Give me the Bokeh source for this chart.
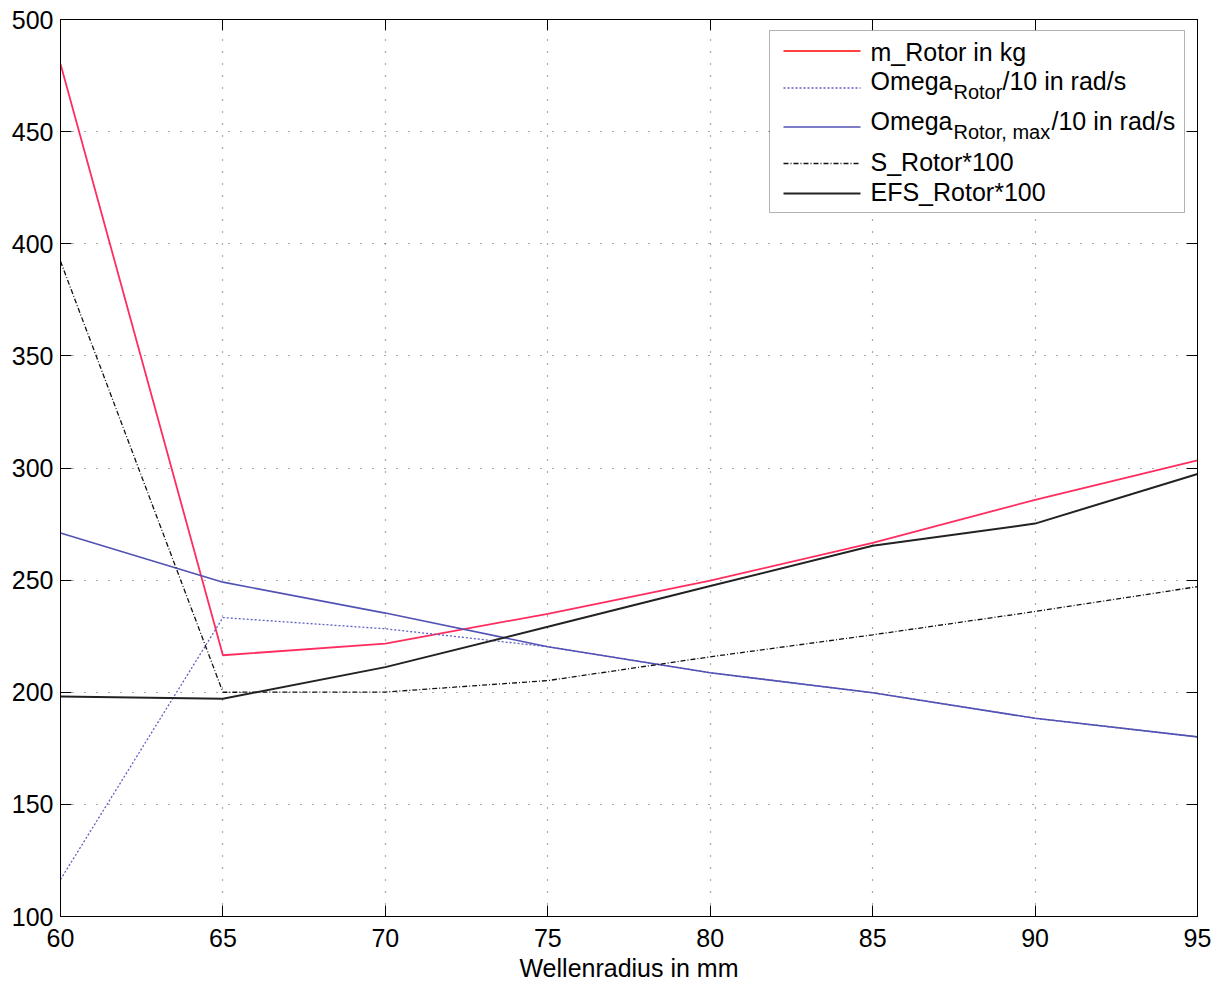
from bokeh.plotting import figure
from bokeh.models import FixedTicker, LinearAxis, Label, Arrow, BoxAnnotation, Range1d
from bokeh.embed import file_html
from bokeh.resources import INLINE

# ---- data ----
radius = [60, 65, 70, 75, 80, 85, 90, 95]
m_rotor = [480.2, 216.5, 221.7, 235.0, 249.8, 266.6, 285.8, 303.4]
omega_rotor = [116.5, 233.3, 228.3, 220.3, 208.7, 199.8, 188.4, 180.1]
omega_rotor_max = [271.0, 249.1, 235.3, 220.3, 208.7, 199.8, 188.4, 180.1]
s_rotor = [392.2, 200.0, 200.1, 205.2, 215.8, 225.6, 236.0, 247.1]
efs_rotor = [198.1, 197.1, 211.2, 229.2, 247.4, 265.3, 275.2, 297.3]
x_ticks = [60, 65, 70, 75, 80, 85, 90, 95]
y_ticks = [100, 150, 200, 250, 300, 350, 400, 450, 500]

FONT = "Liberation Sans"
RED = "#ff2d5f"
BLUE = "#5252b4"
BLUE_DOT = "#5f5fc4"

p = figure(width=1218, height=984, output_backend="svg", toolbar_location=None,
           x_range=Range1d(60, 95), y_range=Range1d(100, 500),
           min_border_left=60, min_border_right=21, min_border_top=19, min_border_bottom=67,
           background_fill_color="white", border_fill_color="white")
p.outline_line_color = "black"
p.outline_line_width = 1

for ax in (p.xaxis[0], p.yaxis[0]):
    ax.major_label_text_font = FONT
    ax.major_label_text_font_size = "25px"
    ax.major_label_text_color = "black"
    ax.major_tick_in = 11
    ax.major_tick_out = 0
    ax.minor_tick_in = 0
    ax.minor_tick_out = 0
    ax.axis_line_color = "black"
    ax.major_tick_line_color = "black"
p.xaxis[0].ticker = FixedTicker(ticks=x_ticks)
p.yaxis[0].ticker = FixedTicker(ticks=y_ticks)
p.xaxis[0].major_label_standoff = 12
p.yaxis[0].major_label_standoff = 7
p.xaxis[0].axis_label = "Wellenradius in mm"
p.xaxis[0].axis_label_text_font = FONT
p.xaxis[0].axis_label_text_font_size = "25px"
p.xaxis[0].axis_label_text_font_style = "normal"
p.xaxis[0].axis_label_text_color = "black"
p.xaxis[0].axis_label_standoff = 4

top = LinearAxis(ticker=FixedTicker(ticks=x_ticks), major_label_text_font_size="8px",
                 major_label_text_color=None,
                 major_tick_in=11, major_tick_out=0, minor_tick_in=0, minor_tick_out=0,
                 major_label_standoff=0, axis_line_color="black")
right = LinearAxis(ticker=FixedTicker(ticks=y_ticks), major_label_text_font_size="8px",
                   major_label_text_color=None,
                   major_tick_in=11, major_tick_out=0, minor_tick_in=0, minor_tick_out=0,
                   major_label_standoff=0, axis_line_color="black")
p.add_layout(top, "above")
p.add_layout(right, "right")

p.xgrid.ticker = FixedTicker(ticks=x_ticks)
p.ygrid.ticker = FixedTicker(ticks=y_ticks)
for g in (p.xgrid[0], p.ygrid[0]):
    g.grid_line_color = "#555555"
    g.grid_line_dash = "1 11"
    g.grid_line_width = 1.2

# ---- series ----
p.line(radius, m_rotor, line_color=RED, line_width=1.8)
p.line(radius, omega_rotor, line_color=BLUE_DOT, line_width=1.3, line_dash="2 2")
p.line(radius, omega_rotor_max, line_color=BLUE, line_width=1.6)
p.line(radius, s_rotor, line_color="#111111", line_width=1.3, line_dash="5 2 1 2")
p.line(radius, efs_rotor, line_color="#222222", line_width=2)

# ---- legend (manual, screen units relative to plot frame) ----
p.add_layout(BoxAnnotation(left=709, right=1124, top=886, bottom=704,
                           left_units="screen", right_units="screen",
                           top_units="screen", bottom_units="screen",
                           fill_color="white", fill_alpha=1.0,
                           line_color="black", line_width=1, level="annotation"))

samples = [
    (865.5, "#ff0000", 1.5, "solid"),
    (828.5, BLUE_DOT, 1.3, "2 2"),
    (789.5, BLUE, 1.6, "solid"),
    (753.0, "#111111", 1.3, "5 2 1 2"),
    (723.0, "#222222", 2, "solid"),
]
for yy, col, w, dash in samples:
    p.add_layout(Arrow(x_start=723, y_start=yy, x_end=800, y_end=yy,
                       start_units="screen", end_units="screen", end=None,
                       line_color=col, line_width=w, line_dash=dash, level="annotation"))

def lab(x, y, t, size="25px"):
    p.add_layout(Label(x=x, y=y + 9, x_units="screen", y_units="screen", text=t,
                       text_font=FONT, text_font_size=size, text_color="black",
                       text_align="left", text_baseline="alphabetic", level="annotation"))

lab(810, 855.5, "m_Rotor in kg")
lab(810, 827, "Omega")
lab(893, 815.5, "Rotor", "20px")
lab(942, 827, "/10 in rad/s")
lab(810, 787, "Omega")
lab(893, 775.5, "Rotor, max", "20px")
lab(991, 787, "/10 in rad/s")
lab(810, 745.5, "S_Rotor*100")
lab(810, 715.5, "EFS_Rotor*100")

open("out.html", "w").write(file_html(p, INLINE))
